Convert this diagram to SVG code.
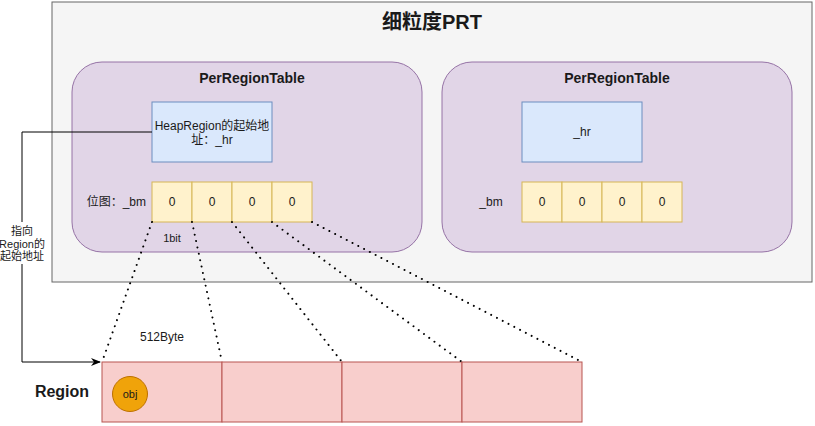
<svg xmlns="http://www.w3.org/2000/svg" width="815" height="426" viewBox="0 0 815 426">
<defs>
<style>
text{font-family:"Liberation Sans",Arial,"Noto Sans CJK SC",sans-serif;fill:#1a1a1a;font-size:12px;text-anchor:middle;dominant-baseline:central}
.b{font-weight:bold}
.prt{fill:#e1d5e7;stroke:#9673a6;stroke-width:1}
.hr{fill:#dae8fc;stroke:#6c8ebf;stroke-width:1}
.bit{fill:#fff2cc;stroke:#d6b656;stroke-width:1}
.reg{fill:#f8cecc;stroke:#b85450;stroke-width:1}
.dot{fill:none;stroke:#000;stroke-width:2;stroke-dasharray:0.01 6.5;stroke-linecap:round}
</style>
<marker id="arr" viewBox="0 0 10 10" refX="9" refY="5" markerWidth="10" markerHeight="10" markerUnits="userSpaceOnUse" orient="auto">
<path d="M0,1 L10,5 L0,9 L3,5 Z" fill="#000"/>
</marker>
</defs>
<rect width="815" height="426" fill="#ffffff"/>
<g id="prt-container">
<rect x="52" y="2" width="760" height="280" fill="#f5f5f5" stroke="#666666"/>
<text x="432" y="22" class="b" style="font-size:20px">细粒度PRT</text>
</g>
<g id="prt-left">
<rect class="prt" x="72" y="62" width="350" height="190" rx="30" ry="30"/>
<text x="252" y="78" class="b" style="font-size:14px">PerRegionTable</text>
</g>
<g id="hr-left">
<rect class="hr" x="152" y="102" width="120" height="60"/>
<text x="212" y="126">HeapRegion的起始地</text>
<text x="212" y="140">址：_hr</text>
</g>
<g id="bm-left">
<text x="146" y="202" style="text-anchor:end">位图：_bm</text>
<rect class="bit" x="152" y="182" width="40" height="40"/>
<rect class="bit" x="192" y="182" width="40" height="40"/>
<rect class="bit" x="232" y="182" width="40" height="40"/>
<rect class="bit" x="272" y="182" width="40" height="40"/>
<text x="172" y="202">0</text>
<text x="212" y="202">0</text>
<text x="252" y="202">0</text>
<text x="292" y="202">0</text>
<text x="172" y="238" style="font-size:11px">1bit</text>
</g>
<g id="prt-right">
<rect class="prt" x="442" y="62" width="350" height="190" rx="30" ry="30"/>
<text x="617" y="78" class="b" style="font-size:14px">PerRegionTable</text>
</g>
<g id="hr-right">
<rect class="hr" x="522" y="102" width="120" height="60"/>
<text x="582" y="132">_hr</text>
</g>
<g id="bm-right">
<text x="491" y="202">_bm</text>
<rect class="bit" x="522" y="182" width="40" height="40"/>
<rect class="bit" x="562" y="182" width="40" height="40"/>
<rect class="bit" x="602" y="182" width="40" height="40"/>
<rect class="bit" x="642" y="182" width="40" height="40"/>
<text x="542" y="202">0</text>
<text x="582" y="202">0</text>
<text x="622" y="202">0</text>
<text x="662" y="202">0</text>
</g>
<g id="region">
<text x="62" y="391" class="b" style="font-size:16px">Region</text>
<rect class="reg" x="102" y="362" width="120" height="60"/>
<rect class="reg" x="222" y="362" width="120" height="60"/>
<rect class="reg" x="342" y="362" width="120" height="60"/>
<rect class="reg" x="462" y="362" width="120" height="60"/>
</g>
<g id="obj">
<circle cx="130" cy="394" r="17.5" fill="#f0a30a" stroke="#BD7000"/>
<text x="130" y="394" style="font-size:11px">obj</text>
</g>
<g id="connectors">
<path class="dot" d="M152,222 L102,362"/>
<path class="dot" d="M192,222 L222,362"/>
<path class="dot" d="M232,222 L342,362"/>
<path class="dot" d="M272,222 L462,362"/>
<path class="dot" d="M312,222 L582,362"/>
<path d="M152,132 L22,132 L22,362 L100,362" fill="none" stroke="#000" stroke-width="1" marker-end="url(#arr)"/>
<rect x="3" y="222" width="38" height="42" fill="#ffffff"/>
<text x="22" y="231" style="font-size:11px">指向</text>
<text x="22" y="243.5" style="font-size:11px">Region的</text>
<text x="22" y="256" style="font-size:11px">起始地址</text>
<text x="162" y="337">512Byte</text>
</g>
</svg>
